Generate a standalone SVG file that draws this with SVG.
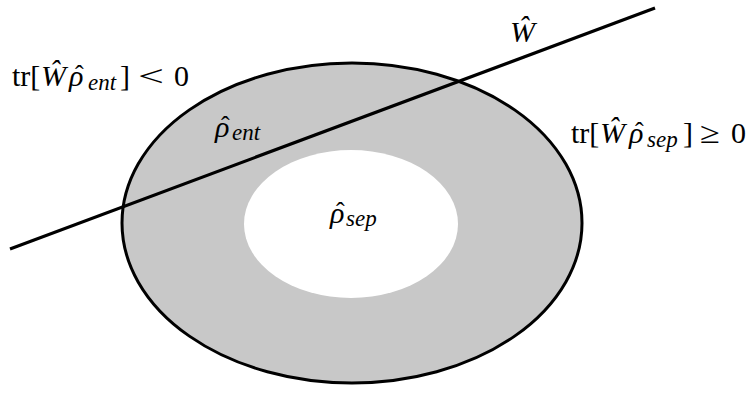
<svg xmlns="http://www.w3.org/2000/svg" width="752" height="401" viewBox="0 0 752 401">
<style>
text{font-family:"Liberation Serif","DejaVu Serif",serif;fill:#000;font-size:30px}
.i{font-style:italic}
.s{font-size:23px;font-style:italic}
.h{font-size:26px;font-style:normal}
</style>
<rect width="752" height="401" fill="#fff"/>
<g id="outer"><ellipse cx="352" cy="223" rx="230" ry="160" fill="#c8c8c8" stroke="#000" stroke-width="3"/></g>
<g id="inner"><ellipse cx="351" cy="224" rx="107" ry="74" fill="#fff"/></g>
<g id="connectors"><line x1="10" y1="249" x2="655" y2="8" stroke="#000" stroke-width="3.2"/></g>
<g id="label-ent-cond">
<text y="86"><tspan x="12">tr[</tspan><tspan x="41" class="i">Ŵ</tspan><tspan x="69" class="i">ρ</tspan><tspan x="75" y="83" class="h">ˆ</tspan><tspan x="88" y="90" class="s">ent</tspan><tspan x="120" y="86">]</tspan><tspan x="138" textLength="26" lengthAdjust="spacingAndGlyphs">&lt;</tspan><tspan x="174">0</tspan></text>
</g>
<g id="label-sep-cond">
<text y="143"><tspan x="571">tr[</tspan><tspan x="600" class="i">Ŵ</tspan><tspan x="629" class="i">ρ</tspan><tspan x="635" y="140" class="h">ˆ</tspan><tspan x="647" y="147" class="s">sep</tspan><tspan x="683" y="143">]</tspan><tspan x="700" textLength="20" lengthAdjust="spacingAndGlyphs">≥</tspan><tspan x="731">0</tspan></text>
</g>
<g id="label-ent">
<text y="137" class="i"><tspan x="215">ρ</tspan><tspan x="221" y="134" class="h">ˆ</tspan><tspan x="232" y="140" class="s">ent</tspan></text>
</g>
<g id="label-sep">
<text y="223" class="i"><tspan x="330">ρ</tspan><tspan x="336" y="220" class="h">ˆ</tspan><tspan x="346" y="226" class="s">sep</tspan></text>
</g>
<g id="label-W">
<text x="510" y="42" class="i">Ŵ</text>
</g>
</svg>
